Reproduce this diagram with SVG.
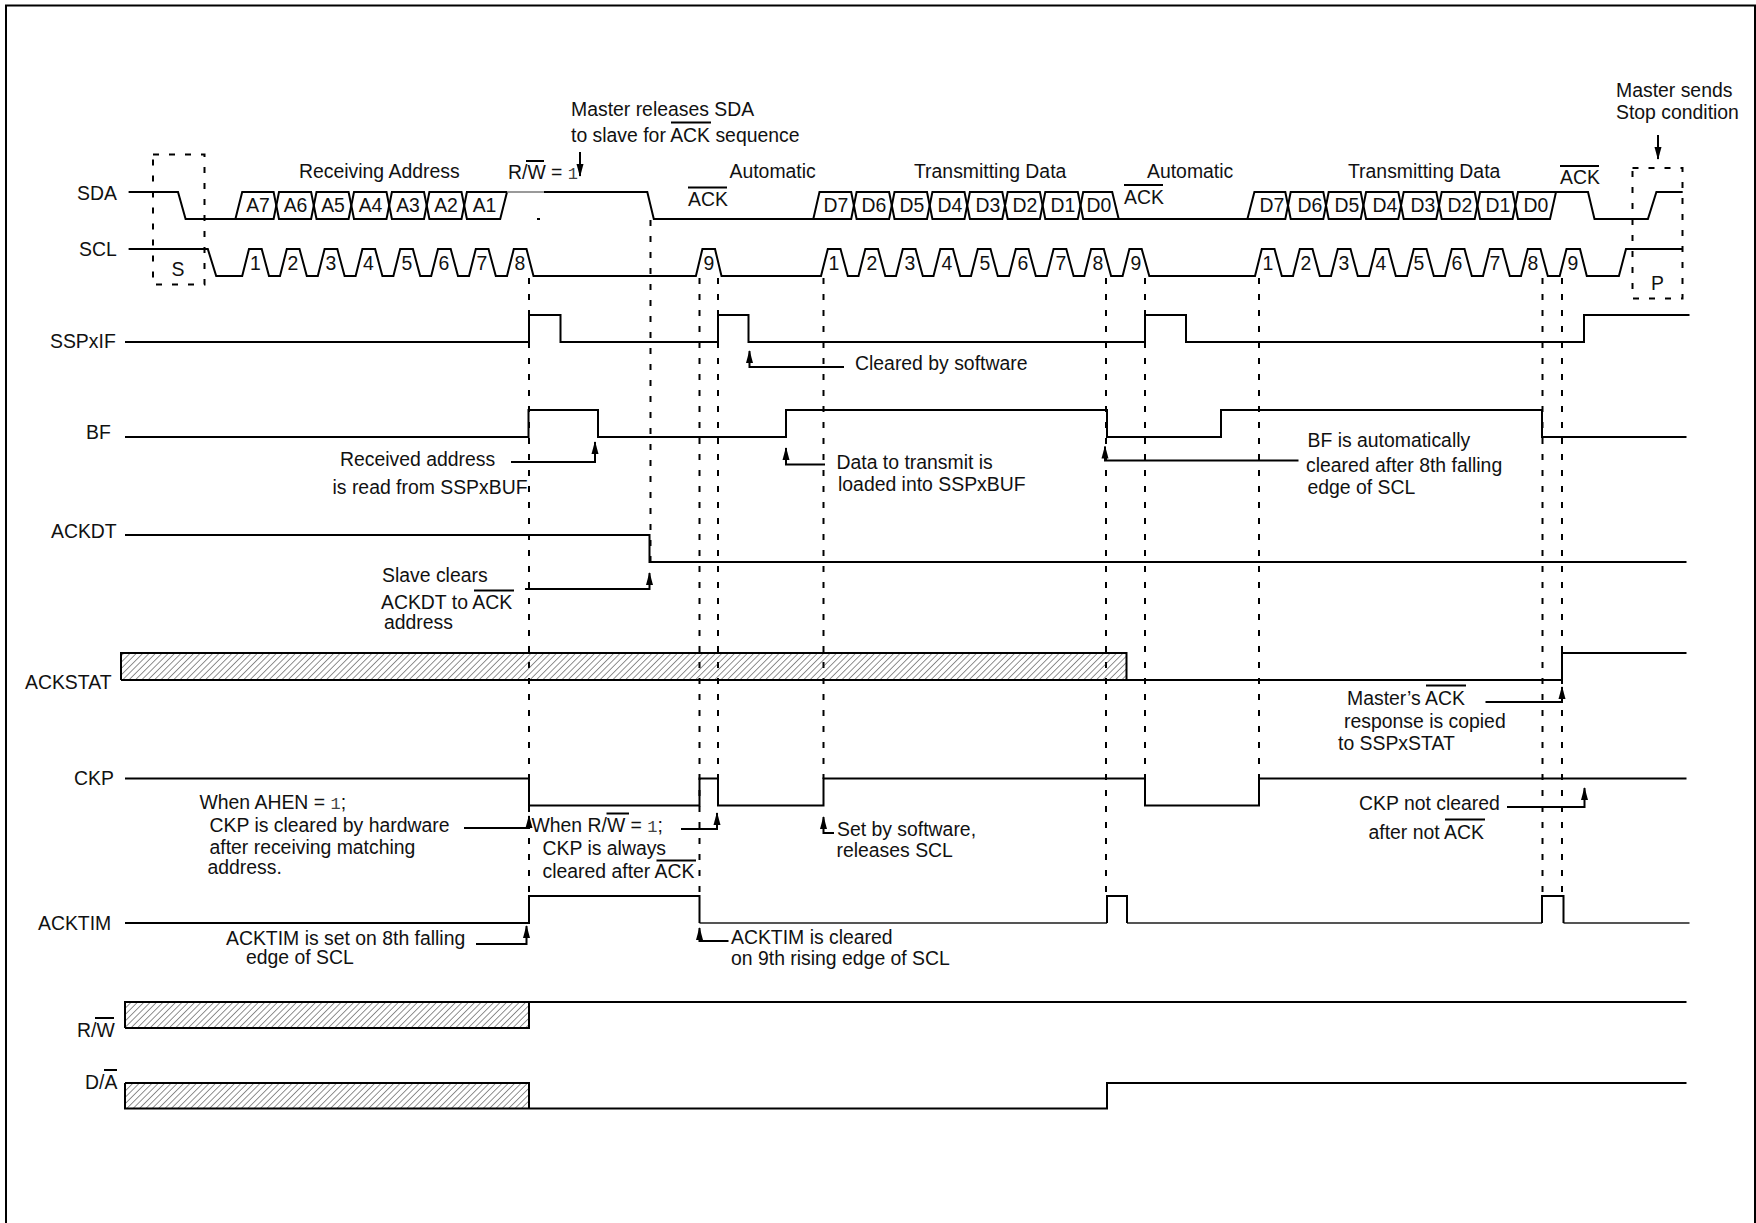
<svg xmlns="http://www.w3.org/2000/svg" width="1756" height="1223" viewBox="0 0 1756 1223">
<defs>
<style>
text{font-family:"Liberation Sans",Arial,sans-serif;font-size:19.4px;fill:#111;transform:translate(0,1px)}
.m{font-family:"Liberation Mono","Courier New",monospace;font-size:17px;fill:#444}
.c{text-anchor:middle}
.s{fill:none;stroke:#000;stroke-width:2}
.d{fill:none;stroke:#000;stroke-width:2;stroke-dasharray:6 10}
.l{fill:none;stroke:#000;stroke-width:2;marker-end:url(#a)}
.o{fill:none;stroke:#000;stroke-width:2}
</style>
<marker id="a" markerUnits="userSpaceOnUse" markerWidth="8" markerHeight="14" refX="4" refY="1" orient="0" viewBox="0 0 8 14"><path d="M0.500 13L4 0L7.500 13Z" fill="#000"/></marker>
<marker id="ad" markerUnits="userSpaceOnUse" markerWidth="8" markerHeight="14" refX="4" refY="13" orient="0" viewBox="0 0 8 14"><path d="M0.500 1L4 14L7.500 1Z" fill="#000"/></marker>
<pattern id="h" patternUnits="userSpaceOnUse" width="4.5" height="4.5" patternTransform="rotate(45)"><path d="M0 0V4.500" stroke="#222" stroke-width="1"/></pattern>
</defs>
<rect width="1756" height="1223" fill="#fff"/>
<path id="frame" d="M6 1223V5.500H1755V1223" fill="none" stroke="#000" stroke-width="2"/>

<g id="connectors">
<path class="d" d="M529 278V896"/>
<path class="d" d="M650.500 220V561"/>
<path class="d" d="M699.500 278V896"/>
<path class="d" d="M718 278V805"/>
<path class="d" d="M823.500 278V779"/>
<path class="d" d="M1106 278V896"/>
<path class="d" d="M1145 278V779"/>
<path class="d" d="M1259 278V779"/>
<path class="d" d="M1542.500 278V896"/>
<path class="d" d="M1562 278V896"/>
<path class="d" d="M153 154.500H204.500V284.500H153Z"/>
<path class="d" d="M1632.500 168H1682.500V298.500H1632.500Z"/>
<path d="M580 152V176" class="s" marker-end="url(#ad)"/>
<path d="M1658 135V159" class="s" marker-end="url(#ad)"/>
<path class="l" d="M844 367H749.500V351"/>
<path class="l" d="M511 462H595V442"/>
<path class="l" d="M825 464.500H786V448"/>
<path class="l" d="M1298.500 460.500H1105V446.500"/>
<path class="l" d="M525 589H649.500V573"/>
<path class="l" d="M1485.500 702H1562V687"/>
<path class="l" d="M1507 807H1584.500V788"/>
<path class="l" d="M464 828H529V816"/>
<path class="l" d="M681 829H717V813"/>
<path class="l" d="M834 833H823.500V817"/>
<path class="l" d="M476 944H526.500V926"/>
<path class="l" d="M728.500 941H699.500V928"/>
</g>

<g id="SDA">
<text x="77" y="199">SDA</text>
<path class="s" d="M128.600 192H178L185.600 219H235.400L242.200 192H273.600L279 219H311.100L316.500 192H348.600L354 219H386.500L391.900 192H424L429.400 219H461.500L466.900 192H507"/>
<path class="s" d="M235.400 219H273.600L279 192H311.100L316.500 219H348.600L354 192H386.500L391.900 219H424L429.400 192H461.500L466.900 219H500.200L507 192"/>
<path d="M507 192H553" fill="none" stroke="#777" stroke-width="1.500"/>
<rect x="537" y="218" width="3" height="2" fill="#000"/>
<path class="s" d="M544 192H647.300L653.800 219H813.300L819.500 192H851.200L856.600 219H889.100L894.500 192H927L932.400 219H964.500L969.900 192H1002.300L1007.700 219H1039.900L1045.300 192H1077.800L1083.200 219H1118.700"/>
<path class="s" d="M813.300 219H851.200L856.600 192H889.100L894.500 219H927L932.400 192H964.500L969.900 219H1002.300L1007.700 192H1039.900L1045.300 219H1077.800L1083.200 192H1112.200L1118.700 219H1247.400L1254.400 192H1285.300L1290.700 219H1323.300L1328.700 192H1360.700L1366.100 219H1398.300L1403.700 192H1436.300L1441.700 219H1474.700L1480.100 192H1512.600L1518 219H1550L1556 192H1588L1594.500 219H1647.900L1656.400 192H1682.700"/>
<path class="s" d="M1247.400 219H1285.300L1290.700 192H1323.300L1328.700 219H1360.700L1366.100 192H1398.300L1403.700 219H1436.300L1441.700 192H1474.700L1480.100 219H1512.600L1518 192H1556"/>
<text class="c" x="258" y="211">A7</text><text class="c" x="295.500" y="211">A6</text><text class="c" x="333" y="211">A5</text><text class="c" x="370.500" y="211">A4</text><text class="c" x="408" y="211">A3</text><text class="c" x="446" y="211">A2</text><text class="c" x="484.500" y="211">A1</text>
<text class="c" x="836" y="211">D7</text><text class="c" x="874" y="211">D6</text><text class="c" x="912" y="211">D5</text><text class="c" x="950" y="211">D4</text><text class="c" x="988" y="211">D3</text><text class="c" x="1025" y="211">D2</text><text class="c" x="1063" y="211">D1</text><text class="c" x="1099" y="211">D0</text>
<text class="c" x="1272" y="211">D7</text><text class="c" x="1310" y="211">D6</text><text class="c" x="1347" y="211">D5</text><text class="c" x="1385" y="211">D4</text><text class="c" x="1423" y="211">D3</text><text class="c" x="1460" y="211">D2</text><text class="c" x="1498" y="211">D1</text><text class="c" x="1536" y="211">D0</text>
</g>

<g id="SCL">
<text x="79" y="255">SCL</text>
<path class="s" d="M128.600 249H207.800L216.200 276H242.200L249 249H261.700L269 276H280L286.800 249H299.500L306.800 276H317.800L324.600 249H337.300L344.600 276H355.600L362.400 249H375.100L382.400 276H393.400L400.200 249H412.900L420.200 276H431.200L438 249H450.700L458 276H469L475.800 249H488.500L495.800 276H507L513.800 249H526.500L533.500 276H695.900L702.400 249H715L721.500 276H821L827.800 249H840.500L847.800 276H858.500L865.300 249H878L885.300 276H896L902.800 249H915.500L922.800 276H933.500L940.300 249H953L960.300 276H971L977.800 249H990.500L997.800 276H1009L1015.800 249H1028.500L1035.800 276H1046.800L1053.600 249H1066.300L1073.600 276H1084.300L1091.100 249H1103.800L1111.100 276H1122.600L1129.400 249H1141.700L1149.300 276H1255L1261.800 249H1274.500L1281.800 276H1293L1299.800 249H1312.500L1319.800 276H1331L1337.800 249H1350.500L1357.800 276H1369L1375.800 249H1388.500L1395.800 276H1407L1413.800 249H1426.500L1433.800 276H1445L1451.800 249H1464.500L1471.800 276H1483L1489.800 249H1502.500L1509.800 276H1521L1527.800 249H1540.500L1547.800 276H1559.700L1566.500 249H1580L1586.800 276H1618.900L1626 249H1682"/>
<text class="c" x="255.500" y="269">1</text><text class="c" x="293" y="269">2</text><text class="c" x="331" y="269">3</text><text class="c" x="368.500" y="269">4</text><text class="c" x="407" y="269">5</text><text class="c" x="444" y="269">6</text><text class="c" x="482" y="269">7</text><text class="c" x="520" y="269">8</text>
<text class="c" x="709" y="269">9</text>
<text class="c" x="834" y="269">1</text><text class="c" x="872" y="269">2</text><text class="c" x="910" y="269">3</text><text class="c" x="947" y="269">4</text><text class="c" x="985" y="269">5</text><text class="c" x="1023" y="269">6</text><text class="c" x="1061" y="269">7</text><text class="c" x="1098" y="269">8</text><text class="c" x="1136" y="269">9</text>
<text class="c" x="1268" y="269">1</text><text class="c" x="1306" y="269">2</text><text class="c" x="1344" y="269">3</text><text class="c" x="1381" y="269">4</text><text class="c" x="1419" y="269">5</text><text class="c" x="1457" y="269">6</text><text class="c" x="1495" y="269">7</text><text class="c" x="1533" y="269">8</text><text class="c" x="1573" y="269">9</text>
</g>

<g id="SSPxIF">
<text x="50" y="347">SSPxIF</text>
<path class="s" d="M125 342H529V315H560.500V342H718V315H748.500V342H1145V315H1186V342H1584V315H1689.500"/>
</g>
<g id="BF">
<text x="86" y="438">BF</text>
<path class="s" d="M125 437H528.500V410H598V437H786V410H1107V437H1221V410H1542V437H1686.500"/>
</g>
<g id="ACKDT">
<text x="51" y="537">ACKDT</text>
<path class="s" d="M125 535H649.500V562H1686.500"/>
</g>
<g id="ACKSTAT">
<text x="25" y="688">ACKSTAT</text>
<rect x="121" y="653" width="1005.500" height="27" fill="url(#h)" stroke="none"/>
<path class="s" d="M121 680V653H1126.500V680M121 680H1562V653H1686.500"/>
</g>
<g id="CKP">
<text x="74" y="784">CKP</text>
<path class="s" d="M125 778.500H529V805.500H699.500V778.500H718V805.500H823.500V778.500H1145V805.500H1259V778.500H1686.500"/>
</g>
<g id="ACKTIM">
<text x="38" y="929">ACKTIM</text>
<path d="M699.500 923H1107M1127 923H1542M1563.500 923H1689.500" fill="none" stroke="#555" stroke-width="1.800"/>
<path class="s" d="M125 923H529V896H699.500V923M1107 923V896H1127V923M1542 923V896H1563.500V923"/>
</g>
<g id="RW">
<text x="77" y="1036">R/W</text>
<path class="o" d="M95 1018H114"/>
<rect x="125" y="1002" width="404" height="26" fill="url(#h)"/>
<path class="s" d="M125 1028V1002H1686.500M125 1028H529V1002"/>
</g>
<g id="DA">
<text x="85" y="1088">D/A</text>
<path class="o" d="M104 1070H117"/>
<rect x="125" y="1083" width="404" height="25.500" fill="url(#h)"/>
<path class="s" d="M125 1083V1108.500H1107V1083H1686.500M125 1083H529V1108.500"/>
</g>

<g id="annotations">
<text x="178" y="275" class="c">S</text>
<text x="1651" y="289">P</text>
<text x="299" y="177">Receiving Address</text>
<text x="508" y="178">R/W = <tspan class="m">1</tspan></text><path class="o" d="M526 161H544"/>
<text x="571" y="115">Master releases SDA</text>
<text x="571" y="141">to slave for ACK sequence</text><path class="o" d="M671 122.500H711"/>
<text x="688" y="205">ACK</text><path class="o" d="M688 187.500H727"/>
<text x="729.500" y="177">Automatic</text>
<text x="914" y="177">Transmitting Data</text>
<text x="1124" y="203">ACK</text><path class="o" d="M1124 185H1163"/>
<text x="1147" y="177">Automatic</text>
<text x="1348" y="177">Transmitting Data</text>
<text x="1560" y="183">ACK</text><path class="o" d="M1560 166H1599"/>
<text x="1616" y="96">Master sends</text>
<text x="1616" y="118">Stop condition</text>
<text x="855" y="369">Cleared by software</text>
<text x="340" y="465">Received address</text>
<text x="332.500" y="493">is read from SSPxBUF</text>
<text x="836.500" y="468">Data to transmit is</text>
<text x="838" y="490">loaded into SSPxBUF</text>
<text x="1307.500" y="446">BF is automatically</text>
<text x="1306" y="471">cleared after 8th falling</text>
<text x="1307.500" y="493">edge of SCL</text>
<text x="382" y="581">Slave clears</text>
<text x="381" y="608">ACKDT to ACK</text><path class="o" d="M474 590.500H514"/>
<text x="384" y="628">address</text>
<text x="1347" y="704">Master’s ACK</text><path class="o" d="M1426 685.500H1466"/>
<text x="1344" y="727">response is copied</text>
<text x="1338" y="749">to SSPxSTAT</text>
<text x="1359" y="809">CKP not cleared</text>
<text x="1368.500" y="838">after not ACK</text><path class="o" d="M1445 819.500H1485"/>
<text x="199.500" y="808">When AHEN = <tspan class="m">1</tspan>;</text>
<text x="209.500" y="831">CKP is cleared by hardware</text>
<text x="209.500" y="853">after receiving matching</text>
<text x="207.500" y="873">address.</text>
<text x="531.500" y="831">When R/W = <tspan class="m">1</tspan>;</text><path class="o" d="M606.500 813.500H629"/>
<text x="542.500" y="854">CKP is always</text>
<text x="542.500" y="877">cleared after ACK</text><path class="o" d="M656.500 860.500H696"/>
<text x="837" y="835">Set by software,</text>
<text x="836.500" y="856">releases SCL</text>
<text x="226" y="944">ACKTIM is set on 8th falling</text>
<text x="246" y="963">edge of SCL</text>
<text x="731" y="943">ACKTIM is cleared</text>
<text x="731" y="964">on 9th rising edge of SCL</text>
</g>
</svg>
